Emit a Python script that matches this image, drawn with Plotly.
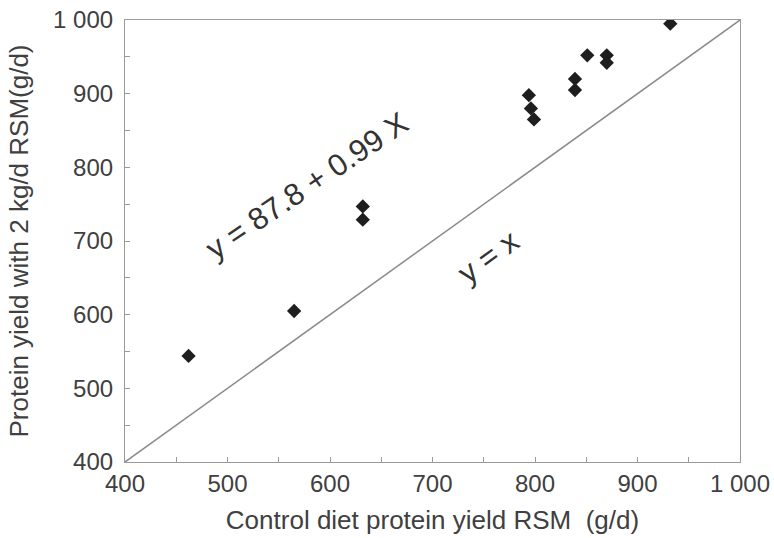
import plotly.graph_objects as go

control_x = [462, 565, 632, 632, 794, 796, 799, 839, 839, 851, 870, 870, 932]
rsm_y = [544, 605, 747, 729, 898, 880, 865, 920, 905, 952, 952, 942, 995]
identity = [400, 1000]
tick_vals = [400, 500, 600, 700, 800, 900, 1000]
tick_text = ["400", "500", "600", "700", "800", "900", "1 000"]

FONT = "Liberation Sans, Arial, sans-serif"

fig = go.Figure()
fig.add_trace(go.Scatter(x=identity, y=identity, mode="lines",
                         line=dict(color="#8a8a8a", width=1.5),
                         hoverinfo="skip", showlegend=False))
fig.add_trace(go.Scatter(x=control_x, y=rsm_y, mode="markers",
                         marker=dict(symbol="diamond", size=11, color="#1e1e1e"),
                         showlegend=False))

axis_common = dict(
    range=[400, 1000], tickvals=tick_vals, ticktext=tick_text,
    showgrid=False, zeroline=False, showline=True, linecolor="#9a9a9a",
    linewidth=1.2, mirror=True, ticks="inside", ticklen=5, tickcolor="#9a9a9a",
    minor=dict(ticks="inside", dtick=50, ticklen=5, tickcolor="#9a9a9a"),
    tickfont=dict(family=FONT, size=24, color="#404040"),
    automargin=False,
)

fig.update_xaxes(**axis_common,
                 title=dict(text="Control diet protein yield RSM  (g/d)",
                            font=dict(family=FONT, size=26, color="#404040"),
                            standoff=14))
fig.update_yaxes(**axis_common, ticklabelstandoff=6,
                 title=dict(text="Protein yield with 2 kg/d RSM(g/d)",
                            font=dict(family=FONT, size=26, color="#404040"),
                            standoff=16))

fig.add_annotation(x=578, y=775, xref="x", yref="y",
                   xanchor="center", yanchor="middle",
                   text="y = 87.8 + 0.99 X", showarrow=False, textangle=-34,
                   font=dict(family=FONT, size=31, color="#333333"))
fig.add_annotation(x=755, y=679, xref="x", yref="y",
                   xanchor="center", yanchor="middle",
                   text="y = x", showarrow=False, textangle=-36,
                   font=dict(family=FONT, size=31, color="#333333"))

fig.update_layout(width=774, height=538, margin=dict(l=125, r=34, t=20, b=76),
                  plot_bgcolor="white", paper_bgcolor="white")

fig.write_html("out.html")
